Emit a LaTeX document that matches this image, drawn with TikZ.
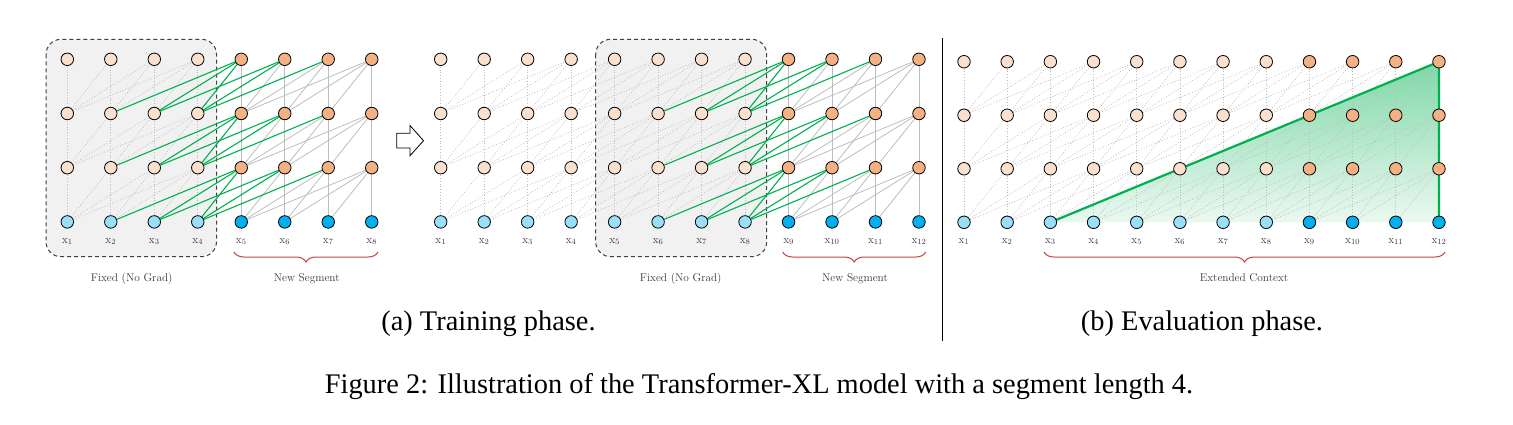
\documentclass[tikz,border=0pt]{standalone}
\usepackage{fontspec}
\newfontfamily\capfont{Liberation Serif}
\usetikzlibrary{decorations.pathreplacing}
\definecolor{newor}{HTML}{F4B183}
\definecolor{oldor}{HTML}{FBE0CD}
\definecolor{newbl}{HTML}{00B0F0}
\definecolor{oldbl}{HTML}{99DFF9}
\definecolor{grn}{HTML}{00B050}
\definecolor{lgr}{HTML}{BDBDBD}
\definecolor{boxfill}{HTML}{F1F1F1}
\definecolor{brc}{HTML}{C8403A}
\pgfdeclarelayer{back}
\pgfdeclarelayer{edges}
\pgfsetlayers{back,edges,main}
\tikzset{
  unit/.style={circle,draw=black,line width=0.8pt,minimum size=12.5pt,inner sep=0pt},
  dotln/.style={draw=lgr,line width=0.8pt,dotted},
  solln/.style={draw=lgr,line width=0.8pt},
  grnln/.style={draw=grn,line width=1.1pt},
  lbl/.style={font=\fontsize{11.3}{13}\selectfont,text=black!78,inner sep=0pt},
  fixbox/.style={draw=black!75,line width=1pt,dash pattern=on 4pt off 3pt,rounded corners=15pt,fill=boxfill},
  bracestyle/.style={draw=brc,line width=1pt,decorate,decoration={brace,mirror,amplitude=10pt}},
  subcap/.style={font=\capfont\fontsize{28.4}{32}\selectfont,inner sep=0pt,anchor=base},
}
% #1 prefix, #2 x0, #3 dx, #4 y bottom, #5 dy, #6 N, #7 last old column
\newcommand\mkpanel[7]{%
  \foreach \cc in {1,...,#6}{%
    \pgfmathsetmacro\xx{#2+(\cc-1)*#3}%
    \foreach \rr in {0,...,3}{%
      \pgfmathsetmacro\yy{#4-\rr*#5}%
      \ifnum\cc>#7
        \ifnum\rr=0 \def\fc{newbl}\else\def\fc{newor}\fi
      \else
        \ifnum\rr=0 \def\fc{oldbl}\else\def\fc{oldor}\fi
      \fi
      \node[unit,fill=\fc] (#1-\rr-\cc) at (\xx,\yy) {};
    }%
    \node[lbl,anchor=base] (#1-l-\cc) at (\xx,243) {$\mathrm{x}_{\cc}$};
  }%
}
% #1 prefix, #2 N, #3 last dotted column
\newcommand\mkedges[3]{%
  \foreach \rr in {1,2,3}{%
    \pgfmathtruncatemacro\rp{\rr-1}%
    \foreach \cc in {1,...,#2}{%
      \foreach \kk in {0,...,3}{%
        \pgfmathtruncatemacro\sc{\cc-\kk}%
        \ifnum\sc>0
          \ifnum\cc>#3
            \ifnum\sc>#3 \draw[solln] (#1-\rp-\sc) -- (#1-\rr-\cc);\fi
          \else
            \draw[dotln] (#1-\rp-\sc) -- (#1-\rr-\cc);
          \fi
        \fi
      }%
    }%
  }%
  \foreach \rr in {1,2,3}{%
    \pgfmathtruncatemacro\rp{\rr-1}%
    \foreach \cc in {1,...,#2}{%
      \foreach \kk in {0,...,3}{%
        \pgfmathtruncatemacro\sc{\cc-\kk}%
        \ifnum\sc>0 \ifnum\cc>#3 \ifnum\sc<#3 \draw[grnln] (#1-\rp-\sc) -- (#1-\rr-\cc);\else
          \ifnum\sc=#3 \draw[grnln] (#1-\rp-\sc) -- (#1-\rr-\cc);\fi\fi\fi\fi
      }%
    }%
  }%
}
\begin{document}
\begin{tikzpicture}[x=1pt,y=-1pt]
\useasboundingbox (0,0) rectangle (1513,424);
% ---- nodes
\mkpanel{a}{67.3}{43.49}{221.9}{54.2}{8}{4}
\mkpanel{b}{440.7}{43.48}{221.9}{54.2}{12}{8}
\mkpanel{c}{964}{43.18}{222.3}{53.53}{12}{8}
% ---- backgrounds
\begin{pgfonlayer}{back}
  \draw[fixbox] (46,39.3) rectangle (216.5,256.7);
  \draw[fixbox] (595.7,39.3) rectangle (766.7,256.7);
  \shade[top color=grn!50!white,bottom color=grn!8!white]
    (c-0-3.center) -- (c-3-12.center) -- (c-0-12.center) -- cycle;
\end{pgfonlayer}
% ---- connectors
\begin{pgfonlayer}{edges}
  \mkedges{a}{8}{4}
  \mkedges{b}{12}{8}
  \mkedges{c}{12}{12}
  \draw[draw=grn,line width=2.2pt,line join=round]
    (c-0-3.center) -- (c-3-12.center) -- (c-0-12.center);
\end{pgfonlayer}
% ---- braces and labels
\coordinate (ba1) at (234,252);  \coordinate (ba2) at (378,252);
\coordinate (bb1) at (782.7,252); \coordinate (bb2) at (925.7,252);
\coordinate (bc1) at (1044,252); \coordinate (bc2) at (1445,252);
\draw[bracestyle] (ba1) -- (ba2);
\draw[bracestyle] (bb1) -- (bb2);
\draw[bracestyle] (bc1) -- (bc2);
\node[lbl,anchor=base] (fa) at (131.7,281) {Fixed (No Grad)};
\node[lbl,anchor=base] (na) at (306.7,281) {New Segment};
\node[lbl,anchor=base] (fb) at (680.7,281) {Fixed (No Grad)};
\node[lbl,anchor=base] (nb) at (855,281) {New Segment};
\node[lbl,anchor=base] (ec) at (1244,281) {Extended Context};
% ---- block arrow
\draw[line width=0.8pt,fill=white,line join=miter]
  (396.7,133.3) -- (410,133.3) -- (410,125.5) -- (423.5,140.7) -- (410,155.7)
  -- (410,147.9) -- (396.7,147.9) -- cycle;
% ---- separator
\draw[line width=1pt] (942,38) -- (942,341);
% ---- captions
\node[subcap] (capa) at (488.5,330) {(a) Training phase.};
\node[subcap] (capb) at (1202,330) {(b) Evaluation phase.};
\node[subcap] (capf) at (759,393) {Figure 2: Illustration of the Transformer-XL model with a segment length 4.};
\end{tikzpicture}
\end{document}
